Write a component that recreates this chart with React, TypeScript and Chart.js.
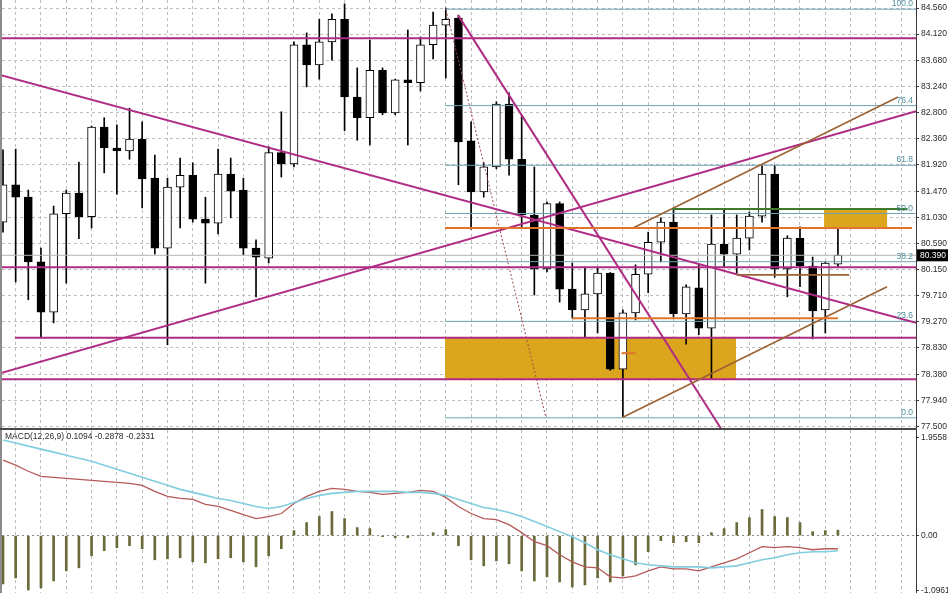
import React, { useEffect, useRef } from "react";
import { Chart, registerables } from "chart.js";
Chart.register(...registerables);

// ---------- candle data (index = bar number) ----------
const opens = [80.95, 81.58, 81.37, 80.28, 79.43, 81.09, 81.44, 81.04, 82.55, 82.2, 82.15, 82.35, 81.69, 80.51, 81.54, 81.74, 81.0, 80.93, 81.76, 81.49, 80.51, 80.34, 82.12, 81.93, 83.94, 83.6, 83.99, 84.37, 83.06, 82.71, 83.51, 82.79, 83.35, 83.3, 83.94, 84.27, 84.39, 82.32, 81.46, 81.88, 82.94, 82.01, 81.07, 80.16, 81.26, 79.82, 79.47, 79.74, 80.09, 78.47, 79.42, 80.07, 80.61, 80.95, 79.4, 79.84, 79.16, 80.58, 80.41, 80.68, 81.05, 81.76, 80.16, 80.68, 80.21, 79.47, 80.24];
const highs = [82.17, 82.18, 81.49, 80.51, 81.22, 81.49, 81.96, 82.57, 82.71, 82.59, 82.87, 82.64, 82.08, 81.69, 82.03, 81.95, 81.37, 82.18, 82.03, 81.69, 80.65, 82.22, 82.81, 83.99, 84.14, 84.37, 84.46, 84.63, 83.55, 84.02, 83.55, 83.36, 84.19, 84.07, 84.49, 84.56, 84.44, 82.64, 81.95, 82.98, 83.13, 82.74, 81.88, 81.29, 81.29, 80.26, 80.19, 80.18, 80.1, 79.47, 80.23, 80.78, 81.02, 81.17, 79.89, 80.23, 81.07, 81.17, 81.07, 81.12, 81.91, 81.91, 80.72, 80.87, 80.36, 80.28, 80.85];
const lows = [80.78, 79.94, 79.64, 79.01, 79.25, 79.92, 80.67, 80.85, 81.78, 81.42, 82.01, 81.19, 80.41, 78.88, 80.85, 80.95, 79.92, 80.75, 81.02, 80.4, 79.69, 80.26, 81.71, 81.88, 83.23, 83.36, 83.68, 82.49, 82.33, 82.25, 82.76, 82.76, 82.25, 83.16, 83.7, 83.38, 81.58, 80.83, 81.37, 81.85, 81.74, 80.87, 79.72, 80.11, 79.6, 79.33, 79.01, 79.08, 78.45, 77.66, 79.3, 79.76, 80.28, 79.35, 78.89, 79.05, 78.32, 80.19, 80.09, 80.48, 80.95, 80.02, 79.69, 79.86, 78.98, 79.08, 80.18];
const closes = [81.58, 81.37, 80.28, 79.43, 81.09, 81.44, 81.04, 82.55, 82.2, 82.15, 82.35, 81.68, 80.51, 81.54, 81.74, 81.0, 80.93, 81.76, 81.47, 80.51, 80.36, 82.12, 81.93, 83.94, 83.6, 83.99, 84.37, 83.06, 82.71, 83.51, 82.79, 83.35, 83.3, 83.94, 84.27, 84.37, 82.3, 81.46, 81.88, 82.94, 82.01, 81.07, 80.16, 81.26, 79.82, 79.47, 79.74, 80.09, 78.47, 79.42, 80.07, 80.61, 80.95, 79.4, 79.86, 79.16, 80.58, 80.41, 80.68, 81.05, 81.76, 80.16, 80.68, 80.21, 79.45, 80.26, 80.39];

// ---------- MACD data ----------
const macdHist = [-0.96, -0.84, -1.08, -1.04, -0.9, -0.7, -0.64, -0.4, -0.3, -0.24, -0.2, -0.26, -0.48, -0.46, -0.44, -0.52, -0.54, -0.46, -0.44, -0.52, -0.62, -0.4, -0.26, 0.1, 0.26, 0.38, 0.48, 0.34, 0.16, 0.14, -0.02, -0.04, -0.04, 0.01, 0.06, 0.12, -0.2, -0.48, -0.6, -0.5, -0.56, -0.7, -0.9, -0.82, -0.92, -1.02, -0.98, -0.84, -0.92, -0.8, -0.58, -0.32, -0.1, -0.14, -0.12, -0.14, 0.06, 0.14, 0.26, 0.36, 0.52, 0.38, 0.36, 0.26, 0.08, 0.1, 0.1094];
const macdMain = [1.5, 1.4, 1.28, 1.18, 1.16, 1.14, 1.12, 1.1, 1.08, 1.06, 1.04, 1.0, 0.88, 0.78, 0.74, 0.72, 0.62, 0.58, 0.5, 0.42, 0.34, 0.38, 0.44, 0.64, 0.78, 0.88, 0.94, 0.92, 0.88, 0.86, 0.82, 0.84, 0.86, 0.9, 0.88, 0.76, 0.58, 0.44, 0.34, 0.32, 0.22, 0.06, -0.12, -0.2, -0.38, -0.52, -0.62, -0.64, -0.82, -0.84, -0.8, -0.7, -0.62, -0.66, -0.66, -0.7, -0.62, -0.54, -0.46, -0.34, -0.22, -0.24, -0.22, -0.24, -0.28, -0.26, -0.26];
const macdSignal = [1.9, 1.84, 1.78, 1.72, 1.66, 1.6, 1.54, 1.48, 1.4, 1.32, 1.24, 1.16, 1.08, 1.0, 0.92, 0.86, 0.8, 0.74, 0.7, 0.64, 0.58, 0.54, 0.58, 0.66, 0.74, 0.8, 0.84, 0.86, 0.88, 0.88, 0.88, 0.88, 0.86, 0.86, 0.84, 0.8, 0.72, 0.64, 0.56, 0.52, 0.46, 0.38, 0.28, 0.18, 0.08, -0.02, -0.14, -0.28, -0.38, -0.46, -0.54, -0.58, -0.6, -0.62, -0.62, -0.62, -0.64, -0.62, -0.6, -0.54, -0.48, -0.44, -0.38, -0.34, -0.32, -0.32, -0.3];
const macdTitle = "MACD(12,26,9) 0.1094 -0.2878 -0.2331";

// ---------- axes ----------
const priceTicks = [84.56, 84.12, 83.68, 83.24, 82.8, 82.36, 81.92, 81.47, 81.03, 80.59, 80.15, 79.71, 79.27, 78.83, 78.38, 77.94, 77.5];
const macdTicks = [1.9558, 0, -1.0961];
const priceMin = 77.444;
const priceMax = 84.695;
const macdMin = -1.14;
const macdMax = 2.1;
const xMin = -0.08;
const xMax = 72.17;

// ---------- drawings: [x1, price1, x2, price2] in bar-index / price units ----------
const fibHigh = 84.54;
const fibLow = 77.65;
const fibStartBar = 34.94;
const fibLevels = [100, 76.4, 61.8, 50, 38.2, 23.6, 0];
const fibTrend = [35.02, 84.53, 42.92, 77.65];
const magentaLines = [
  [-0.3, 84.05, 72.4, 84.05],
  [-0.3, 80.19, 72.4, 80.19],
  [0.95, 79.0, 72.4, 79.0],
  [-0.3, 78.3, 72.4, 78.3],
  [-0.24, 83.43, 72.17, 79.25],
  [-0.24, 78.4, 72.17, 82.82],
  [35.97, 84.44, 56.84, 77.44],
];
const orangeLines = [
  [34.94, 80.85, 71.86, 80.85],
  [45.0, 79.33, 66.0, 79.33],
  [48.9, 78.74, 50.0, 78.74],
];
const brownLines = [
  [49.8, 80.85, 70.75, 83.06],
  [49.0, 77.66, 69.88, 79.86],
  [58.0, 80.06, 66.9, 80.06],
];
const greenLines = [[52.9, 81.17, 71.5, 81.17]];
const zones = [
  [34.94, 79.0, 57.94, 78.3],
  [64.9, 81.17, 69.9, 80.85],
];

const FONT = '"Liberation Sans", Arial, sans-serif';
const GRID = "#bdbdbd";
const AXIS = "#3a3a3a";
const TEXT = "#2b2b2b";
const MAGENTA = "#b02c84";
const ORANGE = "#e0742a";
const BROWN = "#9c6233";
const GREEN = "#3d7a2e";
const GOLD = "#dca51e";
const FIB = "#6fa2b2";

const seg = (p: number[], color: string, width: number, dash: number[] = [], order = 1) => ({
  type: "line" as const,
  data: [
    { x: p[0], y: p[1] },
    { x: p[2], y: p[3] },
  ],
  borderColor: color,
  borderWidth: width,
  borderDash: dash,
  pointRadius: 0,
  fill: false,
  tension: 0,
  order,
  clip: 0,
});

const xScale = () => ({
  type: "linear" as const,
  min: xMin,
  max: xMax,
  offset: false,
  display: true,
  ticks: { display: false },
  afterBuildTicks: (s: any) => {
    const t: any[] = [];
    for (let v = 0; v <= 72; v += 2) t.push({ value: v });
    s.ticks = t;
  },
  grid: { color: GRID, lineWidth: 1, drawTicks: false },
  border: { display: false, dash: [3, 3] },
  afterFit: (s: any) => {
    s.height = 0;
  },
});

const fitY = (s: any) => {
  s.width = 32;
  s.paddingTop = 0;
  s.paddingBottom = 0;
};

export default function App() {
  const priceRef = useRef<HTMLCanvasElement | null>(null);
  const macdRef = useRef<HTMLCanvasElement | null>(null);

  useEffect(() => {
    const idx = opens.map((_, i) => i);
    const wicks = idx.map((i) => ({ x: i, y: [lows[i], highs[i]] }));
    const bodies = idx.map((i) => ({ x: i, y: [opens[i], closes[i]] }));
    const bodyColors = idx.map((i) => (closes[i] >= opens[i] ? "#ffffff" : "#000000"));
    const lastClose = closes[closes.length - 1];

    const fibDatasets = fibLevels.map((l) => {
      const v = fibLow + ((fibHigh - fibLow) * l) / 100;
      return seg([fibStartBar, v, xMax + 1, v], FIB, 1, [], 3);
    });

    const zoneDatasets = zones.map((z) => ({
      type: "line" as const,
      data: [
        { x: z[0], y: z[1] },
        { x: z[2], y: z[1] },
      ],
      borderWidth: 0,
      borderColor: GOLD,
      backgroundColor: GOLD,
      pointRadius: 0,
      fill: { value: z[3] },
      order: 30,
      clip: 0,
    }));

    const priceOverlay = {
      id: "priceOverlay",
      afterDatasetsDraw(chart: any) {
        const { ctx, chartArea, scales } = chart;
        const y = scales.y;
        ctx.save();
        ctx.font = `8.5px ${FONT}`;
        ctx.fillStyle = "#4f8fa0";
        ctx.textAlign = "right";
        ctx.textBaseline = "bottom";
        fibLevels.forEach((l) => {
          const v = fibLow + ((fibHigh - fibLow) * l) / 100;
          ctx.fillText(l.toFixed(1), chartArea.right - 3, y.getPixelForValue(v) - 1);
        });
        ctx.restore();
      },
      afterDraw(chart: any) {
        const { ctx, chartArea, scales } = chart;
        const py = scales.y.getPixelForValue(lastClose);
        ctx.save();
        ctx.fillStyle = "#000";
        ctx.fillRect(chartArea.right + 1, py - 6, chart.width - chartArea.right - 1, 12);
        ctx.fillStyle = "#fff";
        ctx.font = `8.5px ${FONT}`;
        ctx.textAlign = "left";
        ctx.textBaseline = "middle";
        ctx.fillText(lastClose.toFixed(3), chartArea.right + 4, py);
        ctx.restore();
      },
    };

    const priceChart = new Chart(priceRef.current as HTMLCanvasElement, {
      type: "bar",
      data: {
        datasets: [
          ...zoneDatasets,
          {
            type: "bar",
            data: wicks as any,
            backgroundColor: "#000",
            barThickness: 1,
            grouped: false,
            order: 11,
            clip: 0,
          } as any,
          {
            type: "bar",
            data: bodies as any,
            backgroundColor: bodyColors,
            borderColor: "#000",
            borderWidth: 1,
            borderSkipped: false,
            barThickness: 8,
            grouped: false,
            order: 10,
            clip: 0,
          } as any,
          seg([xMin - 1, lastClose, xMax + 1, lastClose], "#b4b4b4", 1, [], 4),
          ...fibDatasets,
          seg(fibTrend, "#a04848", 1, [2, 2], 2),
          ...orangeLines.map((p) => seg(p, ORANGE, 2)),
          ...greenLines.map((p) => seg(p, GREEN, 2)),
          ...brownLines.map((p) => seg(p, BROWN, 1.6)),
          ...magentaLines.map((p) => seg(p, MAGENTA, 2)),
        ] as any,
      },
      options: {
        animation: false,
        responsive: false,
        maintainAspectRatio: false,
        events: [],
        layout: { padding: { left: 2, right: 0, top: 0, bottom: 0 } },
        plugins: { legend: { display: false }, tooltip: { enabled: false } },
        scales: {
          x: xScale() as any,
          y: {
            type: "linear",
            position: "right",
            min: priceMin,
            max: priceMax,
            afterBuildTicks: (s: any) => {
              s.ticks = priceTicks.map((v) => ({ value: v }));
            },
            ticks: {
              autoSkip: false,
              padding: 2,
              color: TEXT,
              font: { family: FONT, size: 8.5 },
              callback: (v: any) => Number(v).toFixed(3),
            },
            grid: { color: GRID, lineWidth: 1, drawTicks: true, tickLength: 3, tickColor: AXIS, tickBorderDash: [] },
            border: { display: true, color: AXIS, width: 1, dash: [3, 3] },
            afterFit: fitY,
          } as any,
        },
      },
      plugins: [priceOverlay],
    });

    const macdOverlay = {
      id: "macdOverlay",
      afterDraw(chart: any) {
        const { ctx, chartArea } = chart;
        ctx.save();
        ctx.font = `8.5px ${FONT}`;
        ctx.fillStyle = TEXT;
        ctx.textAlign = "left";
        ctx.textBaseline = "middle";
        ctx.fillText(macdTitle, chartArea.left + 3, chartArea.top + 7);
        ctx.restore();
      },
    };

    const macdChart = new Chart(macdRef.current as HTMLCanvasElement, {
      type: "bar",
      data: {
        datasets: [
          {
            type: "bar",
            data: idx.map((i) => ({ x: i, y: macdHist[i] })),
            backgroundColor: "#6a6a3a",
            barThickness: 2,
            grouped: false,
            order: 5,
            clip: 0,
          } as any,
          {
            type: "line",
            data: idx.map((i) => ({ x: i, y: macdMain[i] })),
            borderColor: "#b55a58",
            borderWidth: 1.3,
            pointRadius: 0,
            tension: 0,
            fill: false,
            order: 2,
            clip: 0,
          },
          {
            type: "line",
            data: idx.map((i) => ({ x: i, y: macdSignal[i] })),
            borderColor: "#80cde0",
            borderWidth: 1.6,
            pointRadius: 0,
            tension: 0,
            fill: false,
            order: 1,
            clip: 0,
          },
        ] as any,
      },
      options: {
        animation: false,
        responsive: false,
        maintainAspectRatio: false,
        events: [],
        layout: { padding: { left: 2, right: 0, top: 0, bottom: 0 } },
        plugins: { legend: { display: false }, tooltip: { enabled: false } },
        scales: {
          x: xScale() as any,
          y: {
            type: "linear",
            position: "right",
            min: macdMin,
            max: macdMax,
            afterBuildTicks: (s: any) => {
              s.ticks = macdTicks.map((v) => ({ value: v }));
            },
            ticks: {
              autoSkip: false,
              padding: 2,
              color: TEXT,
              font: { family: FONT, size: 8.5 },
              callback: (v: any) => (Number(v) === 0 ? "0.00" : Number(v).toFixed(4)),
            },
            grid: {
              color: (c: any) => (c.tick && c.tick.value === 0 ? "#8a8a8a" : "rgba(0,0,0,0)"),
              lineWidth: 1,
              drawTicks: true,
              tickLength: 3,
              tickColor: AXIS,
              tickBorderDash: [],
            },
            border: { display: true, color: AXIS, width: 1, dash: [2, 3] },
            afterFit: fitY,
          } as any,
        },
      },
      plugins: [macdOverlay],
    });

    return () => {
      priceChart.destroy();
      macdChart.destroy();
    };
  }, []);

  return (
    <div
      style={{
        position: "fixed",
        left: 0,
        top: 0,
        width: 948,
        height: 593,
        background: "#ffffff",
        overflow: "hidden",
      }}
    >
      <canvas ref={priceRef} width={948} height={430} style={{ position: "absolute", left: 0, top: 0, display: "block" }} />
      <canvas ref={macdRef} width={948} height={163} style={{ position: "absolute", left: 0, top: 430, display: "block" }} />
      <div style={{ position: "absolute", left: 0, top: 0, width: 2, height: 593, background: "#8c8c8c" }} />
      <div style={{ position: "absolute", left: 0, top: 428, width: 917, height: 2, background: "#4a4a4a" }} />
    </div>
  );
}
